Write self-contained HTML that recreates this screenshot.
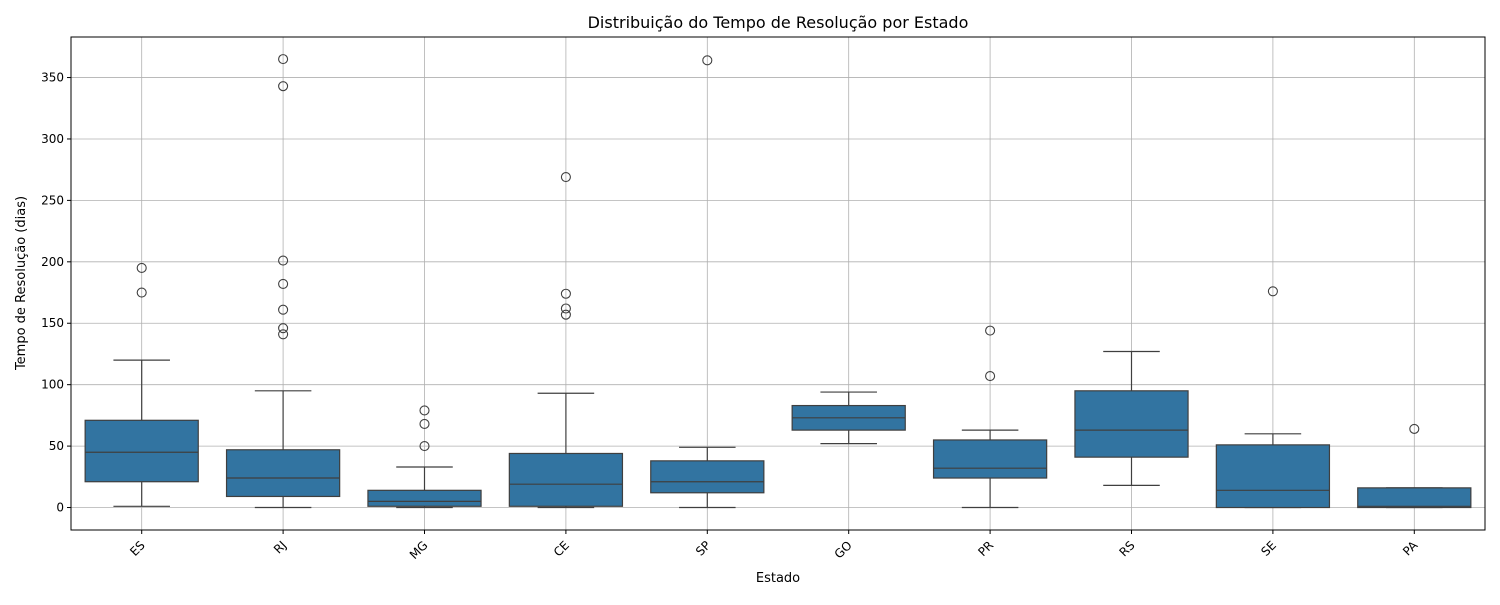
<!DOCTYPE html>
<html><head><meta charset="utf-8"><style>
body{margin:0;background:#fff;font-family:"Liberation Sans","DejaVu Sans",sans-serif}
svg text{font-family:"DejaVu Sans","Liberation Sans",sans-serif}
</style></head><body>
<svg id="chart" width="1500" height="600">
<rect x="0" y="0" width="1500" height="600" fill="#fff"/>
<g id="grid"></g><g id="marks"></g><g id="axes"></g>
<rect x="71" y="37" width="1414" height="493" fill="none" stroke="#000" stroke-width="1"/>
<text x="778" y="28" font-size="16" text-anchor="middle">Distribuição do Tempo de Resolução por Estado</text>
<text x="778" y="582" font-size="13" text-anchor="middle">Estado</text>
<text x="25" y="283" font-size="13" text-anchor="middle" transform="rotate(-90 25 283)">Tempo de Resolução (dias)</text>
</svg>
<script>
const categories=["ES","RJ","MG","CE","SP","GO","PR","RS","SE","PA"];
const whiskerLow=[1,0,0,0,0,52,0,18,0,0];
const q1=[21,9,1,1,12,63,24,41,0,0];
const median=[45,24,5,19,21,73,32,63,14,1];
const q3=[71,47,14,44,38,83,55,95,51,16];
const whiskerHigh=[120,95,33,93,49,94,63,127,60,16];
const fliers=[[175,195],[141,146,161,182,201,343,365],[50,68,79],[157,162,174,269],[364],[],[107,144],[],[176],[64]];
const yTicks=[0,50,100,150,200,250,300,350];
const X0=71,W=1414,Y0=37,H=493,ymin=-18.3,ymax=383;
const step=W/categories.length;
const xs=i=>X0+step*(i+0.5);
const ys=v=>Y0+H*(ymax-v)/(ymax-ymin);
const NS="http://www.w3.org/2000/svg";
function mk(p,tag,at){const e=document.createElementNS(NS,tag);for(const k in at)e.setAttribute(k,at[k]);p.appendChild(e);return e;}
const grid=document.getElementById('grid'),marks=document.getElementById('marks'),axes=document.getElementById('axes');
yTicks.forEach(t=>{const y=ys(t);
 const g=mk(grid,'line',{x1:X0,x2:X0+W,y1:y,y2:y,stroke:'#b0b0b0','stroke-width':0.8});
 
 
 mk(axes,'line',{x1:X0-4,x2:X0,y1:y,y2:y,stroke:'#000'});
 const tx=mk(axes,'text',{x:X0-7,y:y+4,'font-size':12,'text-anchor':'end'});tx.textContent=t;
 
 
});
categories.forEach((c,i)=>{const x=xs(i);
 const g=mk(grid,'line',{x1:x,x2:x,y1:Y0,y2:Y0+H,stroke:'#b0b0b0','stroke-width':0.8});
 
 
 mk(axes,'line',{x1:x,x2:x,y1:Y0+H,y2:Y0+H+4,stroke:'#000'});
 const tx=mk(axes,'text',{x:x+4,y:Y0+H+16,'font-size':12,'text-anchor':'end',transform:`rotate(-45 ${x+4} ${Y0+H+16})`});tx.textContent=c;
 
 
 const bw=step*0.8,hw=bw/4;
 const grp=mk(marks,'g',{});
 
 
 const st={stroke:'#3f3f3f','stroke-width':1.2};
 mk(grp,'line',Object.assign({x1:x,x2:x,y1:ys(whiskerLow[i]),y2:ys(q1[i])},st));
 mk(grp,'line',Object.assign({x1:x,x2:x,y1:ys(q3[i]),y2:ys(whiskerHigh[i])},st));
 mk(grp,'line',Object.assign({x1:x-hw,x2:x+hw,y1:ys(whiskerLow[i]),y2:ys(whiskerLow[i])},st));
 mk(grp,'line',Object.assign({x1:x-hw,x2:x+hw,y1:ys(whiskerHigh[i]),y2:ys(whiskerHigh[i])},st));
 mk(grp,'rect',Object.assign({x:x-bw/2,y:ys(q3[i]),width:bw,height:ys(q1[i])-ys(q3[i]),fill:'#3274a1'},st));
 mk(grp,'line',Object.assign({x1:x-bw/2,x2:x+bw/2,y1:ys(median[i]),y2:ys(median[i])},st));
 fliers[i].forEach(v=>{const f=mk(grp,'circle',{cx:x,cy:ys(v),r:4.5,fill:'none',stroke:'#3f3f3f','stroke-width':1.1});
  
  });
});
</script>
</body></html>
